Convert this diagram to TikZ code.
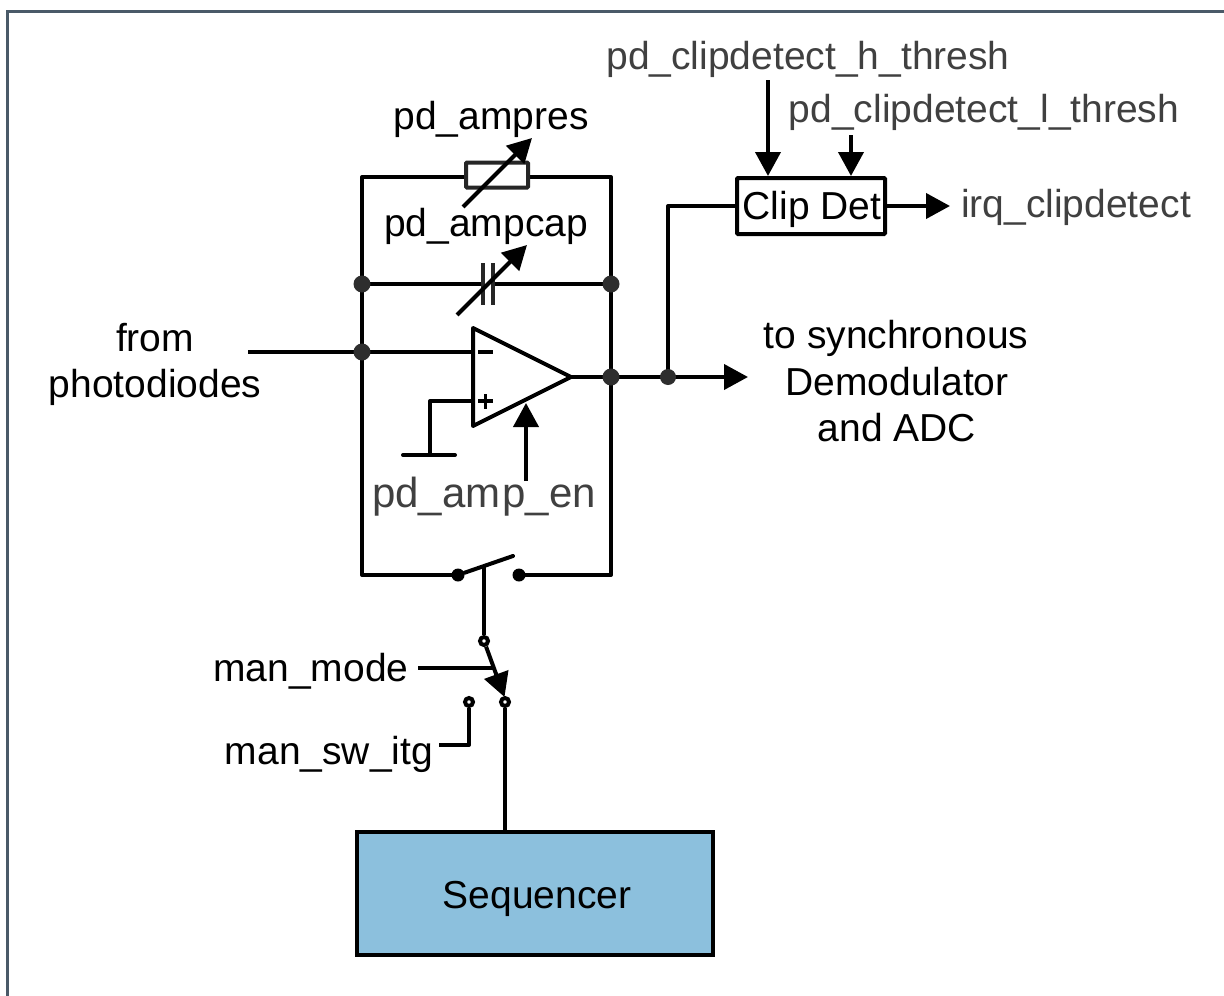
\documentclass[tikz,border=0pt]{standalone}
\usepackage{fontspec}
\setmainfont{Liberation Sans}
\usetikzlibrary{arrows.meta}
\definecolor{framec}{HTML}{4A5A68}
\definecolor{labelgrey}{HTML}{404040}
\definecolor{seqblue}{HTML}{8CC0DD}
\definecolor{dotc}{HTML}{2E2E2E}
\tikzset{
  x=1pt,y=-1pt,
  wire/.style={line width=4pt,line join=round,black},
  arr/.style={wire,-{Triangle[length=24pt,width=25pt]}},
  lbl/.style={font=\fontsize{39}{39}\selectfont,anchor=base,inner sep=0pt,text=black},
  glbl/.style={lbl,text=labelgrey},
  dot/.style={circle,fill=dotc,inner sep=0pt,minimum size=17pt},
  sdot/.style={circle,fill=black,inner sep=0pt,minimum size=13pt},
  odot/.style={circle,draw=black,line width=4pt,fill=white,inner sep=0pt,minimum size=8pt},
  block/.style={draw=black,line width=4pt,rounded corners=1pt,inner sep=0pt}
}
\begin{document}
\begin{tikzpicture}
\useasboundingbox (0,0) rectangle (1224,996);
\fill[white] (0,0) rectangle (1224,996);
\draw[framec,line width=3.5pt] (7.5,996) -- (7.5,11.5) -- (1224,11.5);

% labels
\node[glbl] (hth) at (808,69) {pd\_clipdetect\_h\_thresh};
\node[glbl] (lth) at (984,122) {pd\_clipdetect\_l\_thresh};
\node[glbl] (irq) at (1076,217) {irq\_clipdetect};
\node[lbl] (sync1) at (896,348) {to synchronous};
\node[lbl] (sync2) at (897,395) {Demodulator};
\node[lbl] (sync3) at (897,441) {and ADC};
\node[lbl] (from) at (155,351) {from};
\node[lbl] (photo) at (155,397) {photodiodes};
\node[lbl] (ampres) at (491,129) {pd\_ampres};
\node[lbl] (ampcap) at (486,236) {pd\_ampcap};
\node[glbl,font=\fontsize{42}{42}\selectfont] (ampen) at (484,507) {pd\_am\kern2pt p\_en};
\node[lbl] (manmode) at (311,681) {man\_mode};
\node[lbl] (mansw) at (329,764) {man\_sw\_itg};

% named points
\coordinate (tl) at (362,177);
\coordinate (tr) at (611,177);
\coordinate (bl) at (362,575);
\coordinate (br) at (611,575);
\coordinate (cl) at (362,284);
\coordinate (cr) at (611,284);
\coordinate (cpa) at (483,284);
\coordinate (cpb) at (493,284);
\coordinate (inl) at (248,352);
\coordinate (inj) at (362,352);
\coordinate (inm) at (473,352);
\coordinate (inp) at (473,401);
\coordinate (outj) at (611,377);
\coordinate (clipj) at (668,377);
\coordinate (outa) at (748,377);
\coordinate (gndc) at (430,455);
\coordinate (gndl) at (403,455);
\coordinate (gndr) at (455,455);

% feedback loop
\draw[wire] (466,177) -- (tl) -- (bl) -- (458,575);
\draw[wire] (528,177) -- (tr) -- (br) -- (519,575);
\node[draw=black!85,line width=4pt,rounded corners=1pt,minimum width=62pt,minimum height=25pt,inner sep=0pt] (res) at (497,175) {};
\draw[arr] (463,207) -- (532,138);

% capacitor
\draw[wire] (cl) -- (cpa);
\draw[wire] (cpb) -- (cr);
\draw[line width=4pt,black!85] (483,263) -- (483,305);
\draw[line width=4pt,black!85] (493,263) -- (493,305);
\draw[arr] (457,315) -- (527,245);

% op amp
\draw[wire] (473,328) -- (473,426) -- (571,377) -- cycle;
\coordinate (opout) at (571,377);
\draw[wire] (inl) -- (inm);
\draw[wire] (inp) -- (430,401) -- (gndc);
\draw[wire,line cap=round] (gndl) -- (gndr);
\draw[line width=3.5pt] (478,352) -- (493,352);
\draw[line width=3.5pt] (478,401) -- (493,401);
\draw[line width=3.5pt] (485.5,394) -- (485.5,409);
\draw[arr] (opout) -- (outa);
\draw[arr] (526,481) -- (526,403);

% clip detector
\node[block,minimum width=148pt,minimum height=56pt] (clip) at (811,206) {};
\node[lbl] (cliptxt) at (812,219) {Clip Det};
\draw[wire] (clipj) |- (clip.west);
\draw[arr] (clip.east) -- (950,206);
\draw[arr] (768,80) -- (768,176);
\draw[arr] (851,135) -- (851,176);

% junction dots
\node[dot] at (cl) {};
\node[dot] at (cr) {};
\node[dot] at (inj) {};
\node[dot] at (outj) {};
\node[dot,minimum size=16pt] at (clipj) {};

% reset switch
\node[sdot] (swl) at (458,575) {};
\node[sdot] (swr) at (519,575) {};
\draw[wire,line cap=round] (swl) -- (513,556);
\coordinate (swmid) at (484,566);
\node[odot] (mtop) at (484,641) {};
\node[odot] (msw) at (469,702) {};
\node[odot] (mseq) at (505,702) {};
\draw[wire] (swmid) -- (mtop);
\draw[wire,-{Triangle[length=24pt,width=25pt]}] (mtop) -- (504.5,697);
\draw[wire] (418,668) -- (493,668);
\draw[wire] (msw) -- (469,745) -- (439,745);

% sequencer
\node[block,fill=seqblue,rounded corners=0pt,minimum width=356pt,minimum height=123pt] (seq) at (535,893.5) {};
\node[lbl] (seqtxt) at (537,908) {Sequencer};
\draw[wire] (mseq) -- (505,832);
\end{tikzpicture}
\end{document}
